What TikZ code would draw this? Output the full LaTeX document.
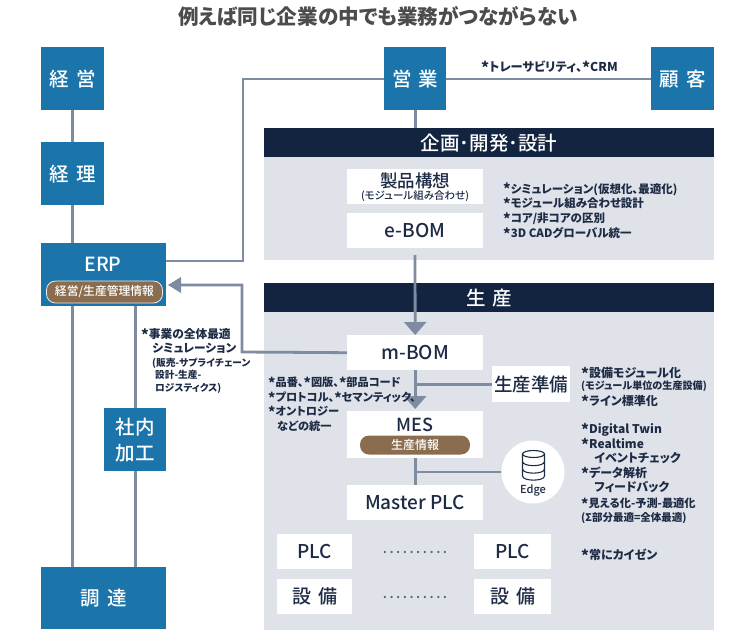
\documentclass[tikz,border=0pt]{standalone}
\usepackage{fontspec}
\setmainfont{Noto Sans CJK JP}[RawFeature=+palt,BoldFont={Noto Sans CJK JP Medium}]
\newfontfamily\heavy{Noto Sans CJK JP}[RawFeature=+palt]
\usetikzlibrary{arrows.meta,calc,shapes.geometric}
\definecolor{bluebox}{HTML}{1B75AB}
\definecolor{navy}{HTML}{132440}
\definecolor{panel}{HTML}{DFE2E8}
\definecolor{wire}{HTML}{7F8BA0}
\definecolor{ink}{HTML}{1D2B45}
\definecolor{brown}{HTML}{8A6D4F}
\newcommand\st{\raisebox{-0.3ex}{\scalebox{1.25}{*}}}
\newcommand\fs[2]{\fontsize{#1}{#2}\selectfont}
\newcommand\dotrow{.\hspace{3pt}.\hspace{3pt}.\hspace{3pt}.\hspace{3pt}.\hspace{3pt}.\hspace{3pt}.\hspace{3pt}.\hspace{3pt}.\hspace{3pt}.}
\tikzset{
 x=1pt,y=-1pt,
 bbox/.style={fill=bluebox,text=white,font=\fs{19.5}{26}\bfseries,inner sep=0pt,align=center},
 wbox/.style={fill=white,text=ink,font=\fs{19}{22}\bfseries,inner sep=0pt,align=center},
 hdr/.style={fill=navy,text=white,font=\fs{19.5}{22}\bfseries,inner sep=0pt},
 pnl/.style={fill=panel,inner sep=0pt},
 pill/.style={fill=brown,text=white,rounded corners=9pt,inner sep=0pt},
 note/.style={text=ink,font=\heavy\fs{12}{14.6}\bfseries,align=left,anchor=north west,inner sep=0pt},
 wireline/.style={draw=wire,line width=2.8pt},
 arrowline/.style={wireline,-{Triangle[length=13pt,width=22pt]}},
}
\begin{document}
\begin{tikzpicture}
\useasboundingbox (0,0) rectangle (755,638);
\node[text=black!70,font=\heavy\fs{20.6}{24}\bfseries,inner sep=0pt] (title) at (378,16) {例えば同じ企業の中でも業務がつながらない};
% panels
\node[pnl,minimum width=450pt,minimum height=104pt,anchor=north west] (p1) at (264,156) {};
\node[hdr,minimum width=450pt,minimum height=29pt,anchor=north west] (h1) at (264,128) {企画･開発･設計};
\node[pnl,minimum width=450pt,minimum height=319pt,anchor=north west] (p2) at (264,311) {};
\node[hdr,minimum width=450pt,minimum height=29pt,anchor=north west] (h2) at (264,283) {生\hspace{.3em}産};
% blue boxes
\node[bbox,minimum width=63pt,minimum height=63pt,anchor=north west] (keiei) at (41,47) {経\hspace{.35em}営};
\node[bbox,minimum width=63pt,minimum height=63pt,anchor=north west] (keiri) at (41,142) {経\hspace{.35em}理};
\node[bbox,minimum width=125pt,minimum height=63pt,anchor=north west] (erp) at (41,243) {};
\node[bbox,inner sep=0pt] (erpt) at (103,264) {ERP};
\node[pill,draw=white!85!brown,line width=.8pt,minimum width=116pt,minimum height=22pt,font=\fs{11.8}{12}\bfseries] (erpp) at (104.5,292) {経営/生産管理情報};
\node[bbox,minimum width=62pt,minimum height=63pt,anchor=north west] (shanai) at (104,408) {社内\\加工};
\node[bbox,minimum width=125pt,minimum height=62pt,anchor=north west] (chotatsu) at (41,567) {調\hspace{.35em}達};
\node[bbox,minimum width=62pt,minimum height=63pt,anchor=north west] (eigyo) at (384,47) {営\hspace{.35em}業};
\node[bbox,minimum width=63pt,minimum height=63pt,anchor=north west] (kokyaku) at (651,47) {顧\hspace{.35em}客};
% white boxes
\node[wbox,minimum width=136pt,minimum height=35pt,anchor=north west] (seihin) at (347,169) {};
\node[text=ink,font=\fs{17.5}{18}\bfseries,inner sep=0pt] (seihint) at (415,181) {製品構想};
\node[text=ink,font=\fs{10.5}{12}\bfseries,inner sep=0pt] (seihins) at (415,196) {(モジュール組み合わせ)};
\node[wbox,minimum width=136pt,minimum height=35pt,anchor=north west] (ebom) at (347,213) {e-BOM};
\node[wbox,minimum width=136pt,minimum height=35pt,anchor=north west] (mbom) at (347,335) {m-BOM};
\node[wbox,minimum width=78pt,minimum height=36pt,anchor=north west,font=\fs{18.5}{22}\bfseries] (junbi) at (492,366) {生産準備};
\node[wbox,minimum width=136pt,minimum height=47pt,anchor=north west] (mes) at (347,411) {};
\node[text=ink,font=\fs{18}{20}\bfseries,inner sep=0pt] (mest) at (415,425) {MES};
\node[pill,minimum width=110pt,minimum height=19pt,font=\fs{12}{12}\bfseries] (mesp) at (415,445) {生産情報};
\node[wbox,minimum width=136pt,minimum height=35pt,anchor=north west] (master) at (347,485) {Master PLC};
\node[wbox,minimum width=75pt,minimum height=35pt,anchor=north west] (plca) at (277,534) {PLC};
\node[wbox,minimum width=77pt,minimum height=35pt,anchor=north west] (plcb) at (474,534) {PLC};
\node[wbox,minimum width=75pt,minimum height=35pt,anchor=north west] (seta) at (277,579) {設\hspace{.35em}備};
\node[wbox,minimum width=77pt,minimum height=35pt,anchor=north west] (setb) at (474,579) {設\hspace{.35em}備};
\node[text=ink!75,font=\heavy\fs{10.5}{12}\bfseries,inner sep=0pt] (dots1) at (415,552) {\dotrow};
\node[text=ink!75,font=\heavy\fs{10.5}{12}\bfseries,inner sep=0pt] (dots2) at (415,597) {\dotrow};
% edge
\node[circle,fill=white,minimum size=63pt,inner sep=0pt] (edge) at (533,472) {};
\node[text=ink,font=\fs{11}{12}\bfseries,inner sep=0pt] (edget) at (533,490.5) {Edge};
\begin{scope}[draw=ink,line width=1.1pt]
 \draw (533.5,454) ellipse[x radius=11pt,y radius=3.5pt];
 \draw (522.5,454) -- (522.5,476) .. controls (522.5,481.5) and (544.5,481.5) .. (544.5,476) -- (544.5,454);
 \draw (522.5,461.5) .. controls (522.5,467) and (544.5,467) .. (544.5,461.5);
 \draw (522.5,469) .. controls (522.5,474.5) and (544.5,474.5) .. (544.5,469);
\end{scope}
% connectors
\draw[wireline] (keiei) -- (keiri);
\draw[wireline] (keiri) -- (keiri.south |- erp.north);
\draw[wireline] (keiri.south |- erp.south) -- (keiri.south |- chotatsu.north);
\draw[wireline] (shanai.north) -- (shanai.north |- erp.south);
\draw[wireline] (shanai) -- (shanai.south |- chotatsu.north);
\draw[wireline] (erp.east |- 0,261) -| (243,79) -- (eigyo.west |- 0,79);
\draw[wireline] (eigyo.east |- 0,79) -- (kokyaku.west |- 0,79);
\draw[wireline] (eigyo) -- (eigyo.south |- h1.north);
\coordinate (ebomfree) at (415,255);
\draw[arrowline] (ebomfree) -- (mbom.north);
\draw[wireline] (mbom.west) -- (242,352) -- (242,285) -- (181,285);
\coordinate (erparrow) at (168,285);
\path[fill=wire] (erparrow) -- (181,277) -- (181,293) -- cycle;
\draw[arrowline] (mbom.south) -- ($(mes.north)+(0,-2)$);
\draw[wireline] (junbi.west) -- (mbom.south |- junbi.west);
\draw[wireline] (mes.south) -- (master.north);
\draw[wireline] (edge.west) -- (mes.south |- edge.west);
% notes
\node[note,font=\heavy\fs{12.2}{14}\bfseries] (crm) at (481,61) {\st トレーサビリティ、\st CRM};
\node[note,font=\heavy\fs{11.5}{14.7}\bfseries] (n1) at (503,183) {\st シミュレーション(仮想化、最適化)\\\st モジュール組み合わせ設計\\\st コア/非コアの区別\\\st 3D CADグローバル統一};
\node[note,font=\heavy\fs{11.7}{14.6}\bfseries] (n2) at (141,328) {\st 事業の全体最適\\\hspace{.95em}シミュレーション};
\node[note,font=\heavy\fs{9.7}{12.3}\bfseries] (n3) at (152,358) {(販売-サプライチェーン\\\hspace{.3em}設計-生産-\\\hspace{.3em}ロジスティクス)};
\node[note,font=\heavy\fs{11.2}{14.6}\bfseries] (n4) at (268,377) {\st 品番、\st 図版、\st 部品コード\\\st プロトコル、\st セマンティック、\\\st オントロジー\\\hspace{.8em}などの統一};
\node[note] (n5) at (581,367) {\st 設備モジュール化};
\node[note,font=\heavy\fs{10.1}{12}\bfseries] (n6) at (581,381) {(モジュール単位の生産設備)};
\node[note] (n7) at (581,395) {\st ライン標準化};
\node[note] (n8) at (581,423) {\st Digital Twin\\\st Realtime\\\hspace{1.1em}イベントチェック\\\st データ解析\\\hspace{1.1em}フィードバック};
\node[note,font=\heavy\fs{11.2}{14}\bfseries] (n9) at (581,498) {\st 見える化-予測-最適化};
\node[note,font=\heavy\fs{10.5}{12}\bfseries] (n10) at (581,512) {(Σ部分最適=全体最適)};
\node[note] (n11) at (581,549) {\st 常にカイゼン};
\end{tikzpicture}
\end{document}
